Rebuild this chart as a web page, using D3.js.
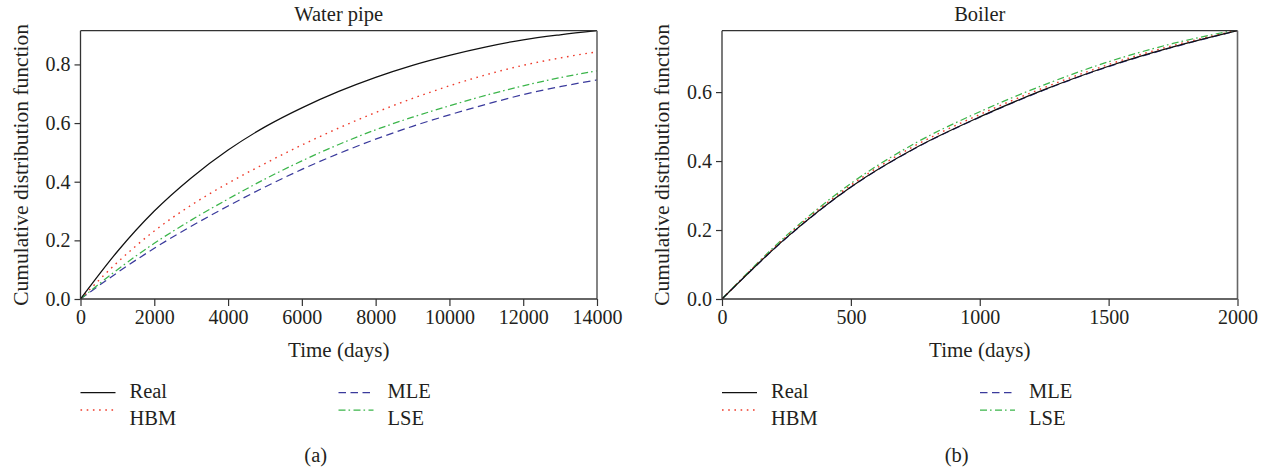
<!DOCTYPE html>
<html>
<head>
<meta charset="utf-8">
<script src="https://cdn.jsdelivr.net/npm/d3@7"></script>
<style>
  html, body { margin: 0; padding: 0; background: #fff; }
  svg { display: block; }
  text { font-family: "Liberation Serif", "DejaVu Serif", serif; fill: #231f20; }
</style>
</head>
<body>
<svg id="chart" width="1269" height="475"></svg>
<script>
// ---------- Data ----------
const seriesNames = ["Real", "HBM", "MLE", "LSE"];

// Panel (a): Water pipe
const pipeDays = [0, 1000, 2000, 3000, 4000, 5000, 6000, 7000, 8000, 9000, 10000, 11000, 12000, 13000, 14000];
const pipeReal = [0, 0.162, 0.300, 0.413, 0.508, 0.587, 0.652, 0.708, 0.756, 0.797, 0.831, 0.860, 0.884, 0.901, 0.915];
const pipeHBM  = [0, 0.125, 0.232, 0.320, 0.395, 0.462, 0.525, 0.583, 0.636, 0.684, 0.727, 0.765, 0.797, 0.822, 0.843];
const pipeMLE  = [0, 0.090, 0.173, 0.248, 0.317, 0.382, 0.442, 0.496, 0.545, 0.589, 0.628, 0.664, 0.697, 0.724, 0.747];
const pipeLSE  = [0, 0.100, 0.190, 0.269, 0.341, 0.409, 0.471, 0.527, 0.577, 0.620, 0.659, 0.695, 0.727, 0.755, 0.778];
const pipeXTicks = [0, 2000, 4000, 6000, 8000, 10000, 12000, 14000];
const pipeYTicks = [0, 0.2, 0.4, 0.6, 0.8];
const pipeYMax = 0.915;

// Panel (b): Boiler
const boilerDays = [0, 250, 500, 750, 1000, 1250, 1500, 1750, 2000];
const boilerReal = [0, 0.178, 0.325, 0.438, 0.528, 0.607, 0.675, 0.731, 0.778];
const boilerHBM  = [0, 0.181, 0.330, 0.445, 0.535, 0.613, 0.680, 0.735, 0.779];
const boilerMLE  = [0, 0.177, 0.324, 0.437, 0.527, 0.606, 0.674, 0.730, 0.778];
const boilerLSE  = [0, 0.184, 0.335, 0.452, 0.543, 0.621, 0.688, 0.741, 0.781];
const boilerXTicks = [0, 500, 1000, 1500, 2000];
const boilerYTicks = [0, 0.2, 0.4, 0.6];
const boilerYMax = 0.778;

const titles = ["Water pipe", "Boiler"];
const panelTags = ["(a)", "(b)"];
const xLabel = "Time (days)";
const yLabel = "Cumulative distribution function";

// ---------- Styles ----------
const styles = {
  Real: { color: "#111111", dash: null, width: 1.25 },
  HBM:  { color: "#ee3b2b", dash: "1.6,4.6", width: 1.4 },
  MLE:  { color: "#3a3a9c", dash: "7.5,4.5", width: 1.25 },
  LSE:  { color: "#3bb54a", dash: "7,3,1.6,3.4", width: 1.25 }
};

const svg = d3.select("#chart");
const FS = 20.5;     // titles, legend, tags
const XFS = 21;      // x-axis title
const YFS = 21.5;    // y-axis title
const TFS = 20;      // tick labels
const axisColor = "#333";

const panels = [
  { days: pipeDays, series: { Real: pipeReal, HBM: pipeHBM, MLE: pipeMLE, LSE: pipeLSE },
    xTicks: pipeXTicks, yTicks: pipeYTicks, yMax: pipeYMax, left: 80.5, right: 597, title: titles[0], tag: panelTags[0] },
  { days: boilerDays, series: { Real: boilerReal, HBM: boilerHBM, MLE: boilerMLE, LSE: boilerLSE },
    xTicks: boilerXTicks, yTicks: boilerYTicks, yMax: boilerYMax, left: 722, right: 1237.5, title: titles[1], tag: panelTags[1] }
];
const plotTop = 30.7, plotBottom = 299;

panels.forEach((p, i) => {
  const x = d3.scaleLinear().domain([p.xTicks[0], p.xTicks[p.xTicks.length - 1]]).range([p.left, p.right]);
  const y = d3.scaleLinear().domain([0, p.yMax]).range([plotBottom, plotTop]);
  const g = svg.append("g");

  const clipId = "clip" + i;
  svg.append("clipPath").attr("id", clipId)
    .append("rect").attr("x", p.left).attr("y", plotTop).attr("width", p.right - p.left).attr("height", plotBottom - plotTop);

  // lines
  const line = d3.line().curve(d3.curveMonotoneX);
  const lg = g.append("g").attr("clip-path", `url(#${clipId})`);
  ["MLE", "LSE", "HBM", "Real"].forEach(name => {
    const st = styles[name];
    lg.append("path")
      .attr("d", line(p.days.map((d, k) => [x(d), y(p.series[name][k])])))
      .attr("fill", "none")
      .attr("stroke", st.color)
      .attr("stroke-width", st.width)
      .attr("stroke-dasharray", st.dash);
  });

  // frame (top and right)
  g.append("line").attr("x1", p.left).attr("x2", p.right).attr("y1", plotTop).attr("y2", plotTop)
    .attr("stroke", axisColor).attr("stroke-width", 1.3);
  g.append("line").attr("x1", p.right).attr("x2", p.right).attr("y1", plotTop).attr("y2", plotBottom)
    .attr("stroke", "#666").attr("stroke-width", 1.6);

  // axes
  const xAxis = d3.axisBottom(x).tickValues(p.xTicks).tickFormat(d3.format("d")).tickSize(7).tickPadding(4);
  const yAxis = d3.axisLeft(y).tickValues(p.yTicks).tickFormat(d3.format(".1f")).tickSize(6).tickPadding(4);
  const gx = g.append("g").attr("transform", `translate(0,${plotBottom})`).call(xAxis);
  const gy = g.append("g").attr("transform", `translate(${p.left},0)`).call(yAxis);
  [gx, gy].forEach(a => {
    a.select(".domain").attr("stroke", axisColor).attr("stroke-width", 1.3);
    a.selectAll(".tick line").attr("stroke", axisColor).attr("stroke-width", 1.2);
    a.selectAll(".tick text").style("font-family", '"Liberation Serif", serif').style("font-size", TFS + "px").attr("fill", "#231f20");
  });
  gx.select(".domain").attr("d", `M${p.left},0H${p.right}`);
  gy.select(".domain").attr("d", `M0,${plotBottom}V${plotTop}`);

  const cx = (p.left + p.right) / 2;
  g.append("text").attr("x", cx).attr("y", 21).attr("text-anchor", "middle").style("font-size", FS + "px").text(p.title);
  g.append("text").attr("x", cx).attr("y", 357).attr("text-anchor", "middle").style("font-size", XFS + "px").text(xLabel);
  g.append("text").attr("transform", `translate(${p.left - 53},${(plotTop + plotBottom) / 2}) rotate(-90)`)
    .attr("text-anchor", "middle").style("font-size", YFS + "px").text(yLabel);
  g.append("text").attr("x", cx - 23).attr("y", 462).attr("text-anchor", "middle").style("font-size", FS + "px").text(p.tag);

  // legend
  const legPos = [
    { name: "Real", dx: 0, ly: 392.7, ty: 398.3 },
    { name: "HBM", dx: 0, ly: 410, ty: 425 },
    { name: "MLE", dx: 258, ly: 392.7, ty: 398.3 },
    { name: "LSE", dx: 258, ly: 410, ty: 425 }
  ];
  legPos.forEach(lp => {
    const st = styles[lp.name];
    g.append("line")
      .attr("x1", p.left + lp.dx).attr("x2", p.left + lp.dx + 35)
      .attr("y1", lp.ly).attr("y2", lp.ly)
      .attr("stroke", st.color).attr("stroke-width", st.width)
      .attr("stroke-dasharray", st.dash);
    g.append("text").attr("x", p.left + lp.dx + 49).attr("y", lp.ty)
      .style("font-size", FS + "px").text(lp.name);
  });
});
</script>
</body>
</html>
